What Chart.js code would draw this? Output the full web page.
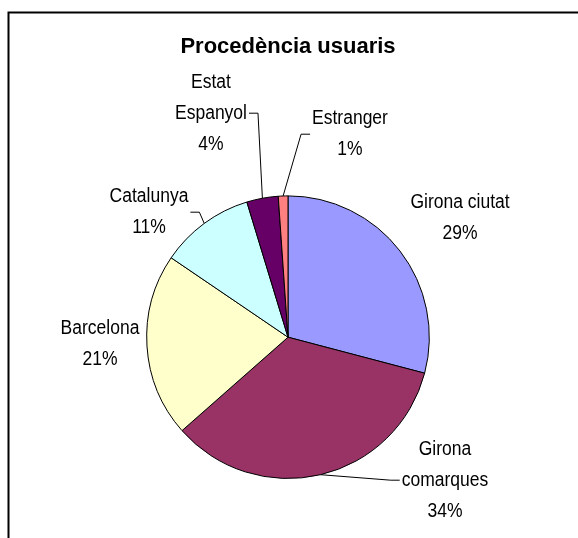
<!DOCTYPE html>
<html>
<head>
<meta charset="utf-8">
<script src="https://cdn.jsdelivr.net/npm/chart.js"></script>
<style>
body{margin:0;background:#fff}
</style>
</head>
<body>
<canvas id="myChart" width="578" height="538"></canvas>
<script>
const categorias = [['Girona ciutat'], ['Girona', 'comarques'], ['Barcelona'], ['Catalunya'], ['Estat', 'Espanyol'], ['Estranger']];
const valores = [29.1, 34.4, 21.0, 10.8, 3.6, 1.1];
const cores = ['#9999FF', '#993366', '#FFFFCC', '#CCFFFF', '#660066', '#FF8080'];

// where each label block sits, relative to the pie centre, and the side its leader line leaves from
const posRotulos = [[172, -119], [157, 143], [-188, 7], [-139, -125], [-77, -224], [62, -203]];
const guias = [null, 'left', null, 'right', 'right', 'left'];

const fonte = '"Liberation Sans", Arial, sans-serif';

const moldura = {
  id: 'moldura',
  beforeDraw(chart) {
    const c = chart.ctx;
    c.save();
    c.fillStyle = '#fff';
    c.fillRect(0, 0, chart.width, chart.height);
    c.strokeStyle = '#000';
    c.lineWidth = 2;
    c.strokeRect(8.5, 12.5, 700, 700);
    c.restore();
  }
};

const rotulos = {
  id: 'rotulos',
  afterDatasetsDraw(chart) {
    const c = chart.ctx;
    const arcos = chart.getDatasetMeta(0).data;
    const total = valores.reduce((a, b) => a + b, 0);
    const esc = 0.875;
    c.save();
    c.font = '20px ' + fonte;
    c.fillStyle = '#000';
    c.strokeStyle = '#000';
    c.lineWidth = 1;
    c.textAlign = 'center';
    c.textBaseline = 'middle';
    arcos.forEach((arco, i) => {
      const p = arco.getProps(['x', 'y', 'startAngle', 'endAngle', 'outerRadius'], true);
      const linhas = categorias[i].concat([Math.round(valores[i] / total * 100) + '%']);
      const cx = p.x + posRotulos[i][0];
      const cy = p.y + posRotulos[i][1];
      const esp = 31;
      let larg = 0;
      linhas.forEach((t, k) => {
        const y = cy + (k - (linhas.length - 1) / 2) * esp;
        larg = Math.max(larg, c.measureText(t).width * esc);
        c.save();
        c.translate(cx, y);
        c.scale(esc, 1);
        c.fillText(t, 0, 0);
        c.restore();
      });
      if (guias[i]) {
        const meio = (p.startAngle + p.endAngle) / 2;
        const ax = p.x + Math.cos(meio) * p.outerRadius;
        const ay = p.y + Math.sin(meio) * p.outerRadius;
        const lado = guias[i] == 'left' ? -1 : 1;
        const x0 = cx + lado * (larg / 2 + 2);
        const x1 = x0 + lado * 9;
        c.beginPath();
        c.moveTo(x0, cy);
        c.lineTo(x1, cy);
        c.lineTo(ax, ay);
        c.stroke();
      }
    });
    c.restore();
  }
};

const ctx = document.getElementById('myChart');

new Chart(ctx, {
  type: 'pie',
  data: {
    labels: categorias,
    datasets: [{
      data: valores,
      backgroundColor: cores,
      borderColor: '#000',
      borderWidth: 1
    }]
  },
  options: {
    responsive: false,
    animation: false,
    layout: {
      padding: { left: 146, right: 148, top: 0, bottom: 59 }
    },
    plugins: {
      legend: { display: false },
      tooltip: { enabled: false },
      title: {
        display: true,
        text: 'Procedència usuaris',
        color: '#000',
        font: { family: fonte, size: 22, weight: 'bold' },
        padding: { top: 34, bottom: 135 }
      }
    }
  },
  plugins: [moldura, rotulos]
});
</script>
</body>
</html>
